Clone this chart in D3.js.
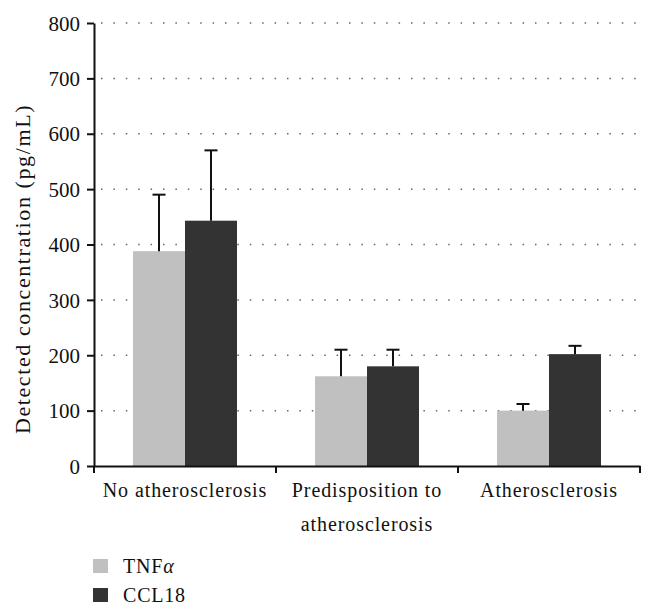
<!DOCTYPE html>
<html><head><meta charset="utf-8">
<script src="https://cdn.jsdelivr.net/npm/d3@7"></script>
<style>body{margin:0;background:#fff}svg{display:block}text{font-family:"Liberation Serif","DejaVu Serif",serif;fill:#111}</style>
</head><body><svg id="c" width="653" height="615"></svg>
<script>
const categories = [["No atherosclerosis"], ["Predisposition to", "atherosclerosis"], ["Atherosclerosis"]];
const seriesNames = ["TNF", "CCL18"];
const tnfMeans = [388, 162, 100];
const tnfErr = [102, 48, 12];
const ccl18Means = [443, 180, 202];
const ccl18Err = [127, 30, 15];
const yTicks = [0, 100, 200, 300, 400, 500, 600, 700, 800];
const colors = ["#c0c0c0", "#333333"];

const series = [tnfMeans.map((v,i)=>({v, e:tnfErr[i]})), ccl18Means.map((v,i)=>({v, e:ccl18Err[i]}))];
const svg = d3.select("#c");
const m = {l:94, r:13, t:23, b:149};
const W = 653 - m.l - m.r, H = 615 - m.t - m.b;
const g = svg.append("g").attr("transform", `translate(${m.l},${m.t})`);
const x = d3.scaleBand().domain(categories.map((c,i)=>i)).range([0, W]).paddingInner(0).paddingOuter(0);
const xs = d3.scaleBand().domain(seriesNames).range([0, x.bandwidth()]).paddingInner(0).paddingOuter(0.75);
const y = d3.scaleLinear().domain([0, 800]).range([H, 0]);

// grid
g.selectAll(".grid").data(yTicks.slice(1)).join("line")
  .attr("x1", 7).attr("x2", W).attr("y1", d=>y(d)).attr("y2", d=>y(d))
  .attr("stroke", "#666").attr("stroke-width", 1.5).attr("stroke-dasharray", "1.5,10.9");

// bars
categories.forEach((c, i) => {
  seriesNames.forEach((s, j) => {
    const d = series[j][i];
    const bx = x(i) + xs(s);
    const bw = xs.bandwidth();
    g.append("rect").attr("x", bx).attr("y", y(d.v)).attr("width", bw).attr("height", H - y(d.v)).attr("fill", colors[j]);
    const cx = bx + bw/2;
    g.append("line").attr("x1", cx).attr("x2", cx).attr("y1", y(d.v)).attr("y2", y(d.v + d.e)).attr("stroke", "#111").attr("stroke-width", 2);
    g.append("line").attr("x1", cx-6.5).attr("x2", cx+6.5).attr("y1", y(d.v+d.e)).attr("y2", y(d.v+d.e)).attr("stroke", "#111").attr("stroke-width", 2);
  });
});

// y axis
const ya = g.append("g").call(d3.axisLeft(y).tickValues(yTicks).tickSize(7).tickSizeOuter(0).tickFormat(d3.format("d")));
ya.select(".domain").attr("stroke", "#111").attr("stroke-width", 2);
ya.selectAll(".tick line").attr("stroke", "#111").attr("stroke-width", 2);
ya.selectAll(".tick text").attr("font-size", 21).attr("fill", "#111").attr("x", -14).attr("dy", "0.34em");

// x axis
const xa = g.append("g").attr("transform", `translate(0,${H})`)
  .call(d3.axisBottom(x).tickValues([]).tickSizeOuter(0));
xa.select(".domain").attr("stroke", "#111").attr("stroke-width", 2);
const tickPos = d3.range(categories.length + 1).map(i => i * x.step());
xa.selectAll(".xt").data(tickPos).join("line").attr("x1", d=>d).attr("x2", d=>d).attr("y1", 0).attr("y2", 7).attr("stroke", "#111").attr("stroke-width", 2);
categories.forEach((lines, i) => {
  const t = xa.append("text").attr("text-anchor", "middle").attr("font-size", 20).attr("letter-spacing", 0.9)
    .attr("transform", `translate(${x(i)+x.bandwidth()/2},31)`);
  lines.forEach((ln, k) => t.append("tspan").attr("x", 0).attr("dy", k ? 34 : 0).text(ln));
});

// y label
svg.append("text").attr("transform", `translate(30,269) rotate(-90)`).attr("text-anchor", "middle")
  .attr("font-size", 22).attr("letter-spacing", 1.6).text("Detected concentration (pg/mL)");

// legend
const lg = svg.append("g").attr("transform", "translate(93,559)");
seriesNames.forEach((s, j) => {
  const r = lg.append("g").attr("transform", `translate(0,${j*29})`);
  r.append("rect").attr("width", 15).attr("height", 14).attr("fill", colors[j]);
  const t = r.append("text").attr("x", 30).attr("y", 14).attr("font-size", 20).attr("letter-spacing", 0.8);
  t.append("tspan").text(s);
  if (j === 0) t.append("tspan").attr("font-style", "italic").text("α");
});
</script></body></html>
